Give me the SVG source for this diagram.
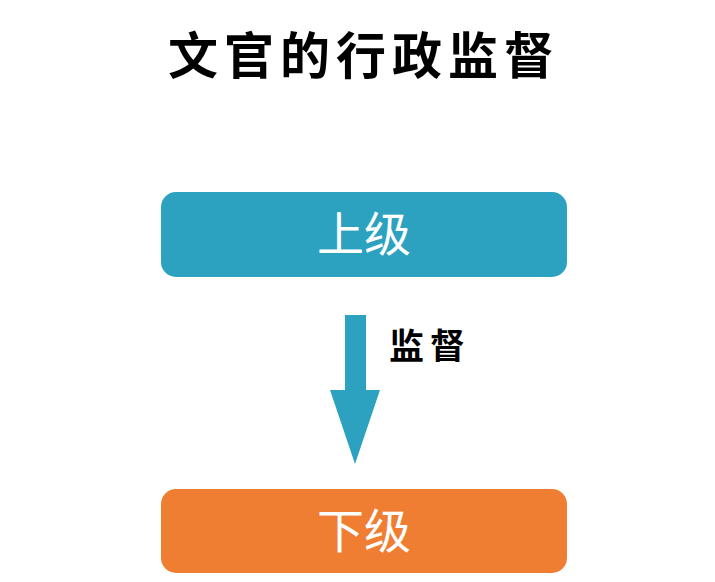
<svg xmlns="http://www.w3.org/2000/svg" width="715" height="582" viewBox="0 0 715 582">
<style>
.title{font-family:"Noto Sans CJK SC","Noto Sans",sans-serif;font-weight:700;font-size:50px;letter-spacing:6px;fill:#000;}
.lbl{font-family:"Noto Sans CJK SC","Noto Sans",sans-serif;font-weight:400;font-size:47px;fill:#fff;}
.edge{font-family:"Noto Sans CJK SC","Noto Sans",sans-serif;font-weight:700;font-size:35px;letter-spacing:6px;fill:#000;}
</style>
<rect width="715" height="582" fill="#fff"/>
<text class="title" x="364" y="74" text-anchor="middle">文官的行政监督</text>
<g id="node-upper">
<rect x="161" y="192" width="406" height="85" rx="15" fill="#2CA2C0"/>
<text class="lbl" x="364" y="251" text-anchor="middle">上级</text>
</g>
<g id="node-lower">
<rect x="161" y="489" width="406" height="84" rx="15" fill="#EF7E33"/>
<text class="lbl" x="364" y="548" text-anchor="middle">下级</text>
</g>
<g id="connectors">
<polygon points="345,315 366,315 366,390 380,390 355,464 330,390 345,390" fill="#2CA2C0"/>
<text class="edge" x="430" y="359" text-anchor="middle">监督</text>
</g>
</svg>
